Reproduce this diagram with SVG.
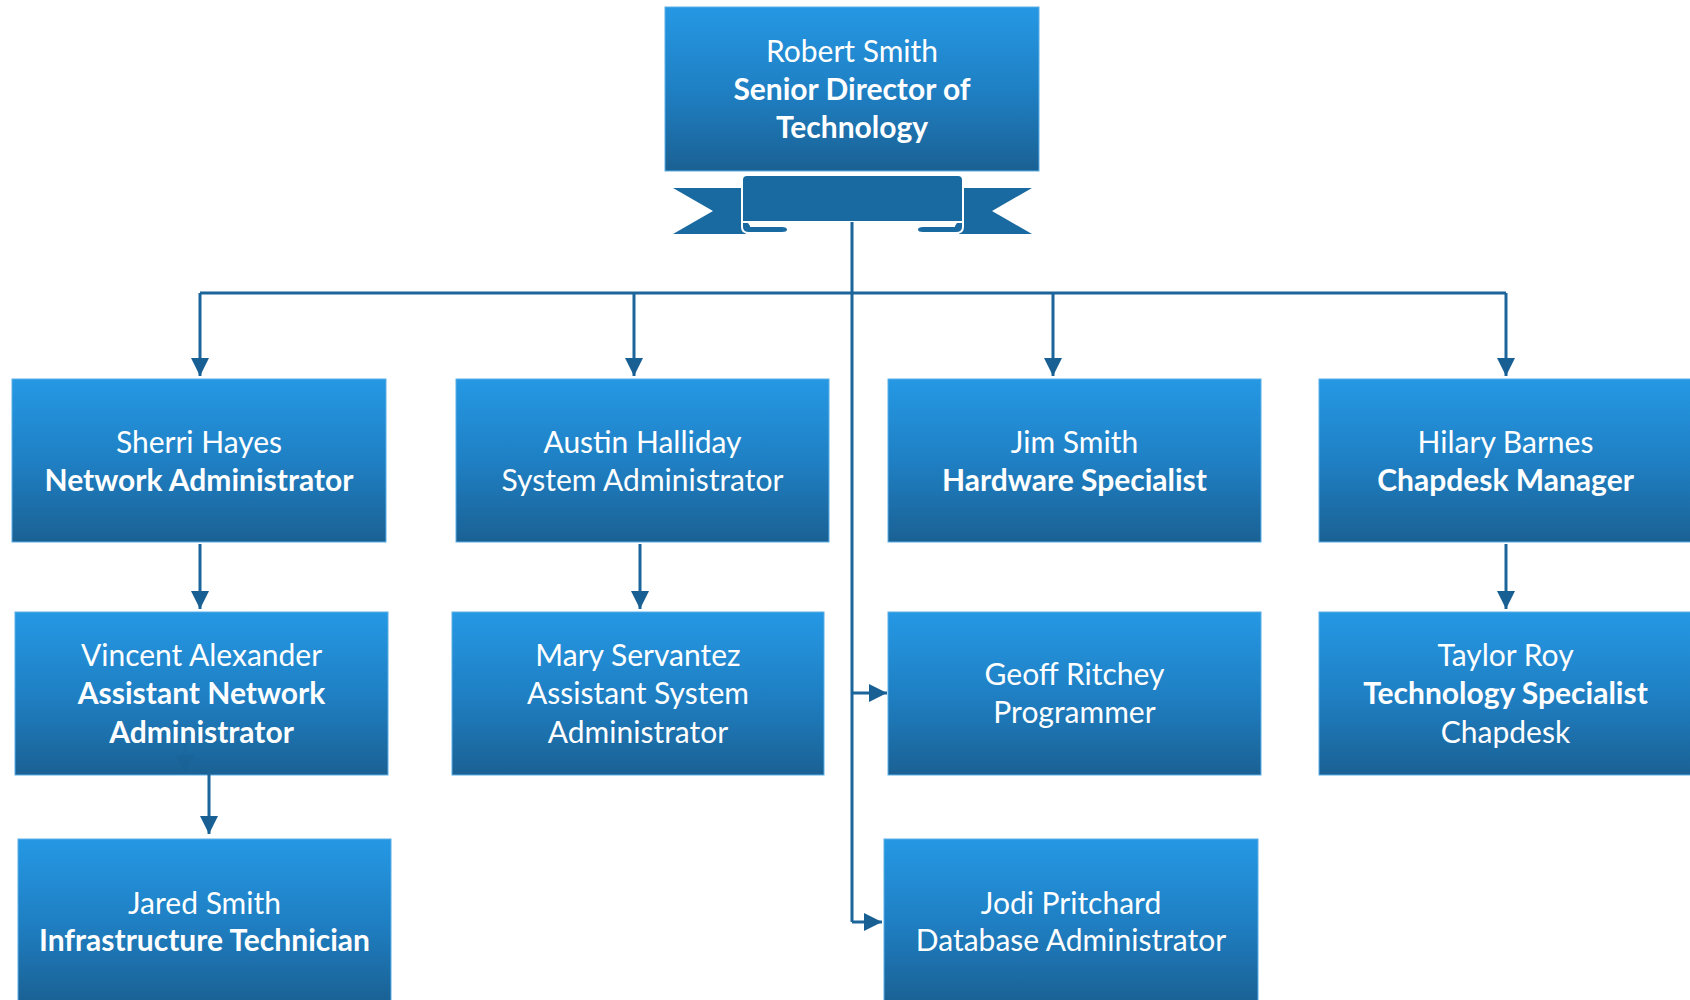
<svg xmlns="http://www.w3.org/2000/svg" width="1690" height="1000" viewBox="0 0 1690 1000">
<defs>
<linearGradient id="bg" x1="0" y1="0" x2="0" y2="1">
<stop offset="0" stop-color="#2598e4"/>
<stop offset="0.5" stop-color="#1f80c4"/>
<stop offset="1" stop-color="#1a6194"/>
</linearGradient>
<marker id="ah" viewBox="0 0 18 18" refX="18" refY="9" markerWidth="18" markerHeight="18" markerUnits="userSpaceOnUse" orient="auto">
<path d="M0,0 L18,9 L0,18 z" fill="#185f93"/>
</marker>
<style>
.box{fill:url(#bg);stroke:#5aaee6;stroke-width:1}
.t{font-family:Lato,"Liberation Sans",sans-serif;font-size:30px;fill:#ffffff;text-anchor:middle}
.b{font-weight:bold}
.c{fill:none;stroke:#1b659b;stroke-width:3}
.ca{fill:none;stroke:#1b659b;stroke-width:3;marker-end:url(#ah)}
.rib{fill:#1a6aa2}
.ribo{fill:#1a6aa2;stroke:#ffffff;stroke-width:2}
</style>
</defs>
<rect width="1690" height="1000" fill="#ffffff"/>

<g id="ribbon">
<polygon class="rib" points="673,188 746,188 746,234 673,234 713,211"/>
<polygon class="rib" points="1032,188 959,188 959,234 1032,234 992,211"/>
<path class="ribo" d="M742,214 V227 Q742,233 749,233 H782 Q788,233 788,229.5 Q788,226 782,226 H750"/>
<path class="ribo" d="M963,214 V227 Q963,233 956,233 H923 Q917,233 917,229.5 Q917,226 923,226 H955"/>
<path class="ribo" d="M742,222 V180 Q742,175 747,175 H958 Q963,175 963,180 V222 Z"/>
</g>

<g id="connectors">
<path class="c" d="M852,222 V922"/>
<path class="c" d="M200,293 H1506"/>
<path class="ca" d="M200,293 V376"/>
<path class="ca" d="M634,293 V376"/>
<path class="ca" d="M1053,293 V376"/>
<path class="ca" d="M1506,293 V376"/>
<path class="ca" d="M200,544 V609"/>
<path class="ca" d="M640,544 V609"/>
<path class="ca" d="M1506,544 V609"/>
<path class="ca" d="M852,693 H887"/>
<path class="ca" d="M852,922 H882"/>
</g>

<g id="n-robert">
<rect class="box" x="665" y="7" width="374" height="164"/>
<text class="t" x="852" y="61.5">Robert Smith</text>
<text class="t b" x="852" y="99.5">Senior Director of</text>
<text class="t b" x="852" y="137.5">Technology</text>
</g>

<g id="n-sherri">
<rect class="box" x="12" y="379" width="374" height="163"/>
<text class="t" x="199" y="452.5">Sherri Hayes</text>
<text class="t b" x="199" y="490.5">Network Administrator</text>
</g>

<g id="n-austin">
<rect class="box" x="456" y="379" width="373" height="163"/>
<text class="t" x="642.5" y="452.5">Austin Halliday</text>
<text class="t" x="642.5" y="490.5">System Administrator</text>
</g>

<g id="n-jim">
<rect class="box" x="888" y="379" width="373" height="163"/>
<text class="t" x="1074.5" y="452.5">Jim Smith</text>
<text class="t b" x="1074.5" y="490.5">Hardware Specialist</text>
</g>

<g id="n-hilary">
<rect class="box" x="1319" y="379" width="373" height="163"/>
<text class="t" x="1505.5" y="452.5">Hilary Barnes</text>
<text class="t b" x="1505.5" y="490.5">Chapdesk Manager</text>
</g>

<g id="n-vincent">
<rect class="box" x="15" y="612" width="373" height="163"/>
<text class="t" x="201.5" y="665.5">Vincent Alexander</text>
<text class="t b" x="201.5" y="703.5">Assistant Network</text>
<text class="t b" x="201.5" y="742.5">Administrator</text>
</g>

<g id="n-mary">
<rect class="box" x="452" y="612" width="372" height="163"/>
<text class="t" x="638" y="665.5">Mary Servantez</text>
<text class="t" x="638" y="703.5">Assistant System</text>
<text class="t" x="638" y="742.5">Administrator</text>
</g>

<g id="n-geoff">
<rect class="box" x="888" y="612" width="373" height="163"/>
<text class="t" x="1074.5" y="684.5">Geoff Ritchey</text>
<text class="t" x="1074.5" y="722.5">Programmer</text>
</g>

<g id="n-taylor">
<rect class="box" x="1319" y="612" width="373" height="163"/>
<text class="t" x="1505.5" y="665.5">Taylor Roy</text>
<text class="t b" x="1505.5" y="703.5">Technology Specialist</text>
<text class="t" x="1505.5" y="742.5">Chapdesk</text>
</g>

<g id="n-jared">
<rect class="box" x="18" y="839" width="373" height="163"/>
<text class="t" x="204.5" y="913.5">Jared Smith</text>
<text class="t b" x="204.5" y="950.5">Infrastructure Technician</text>
</g>

<g id="n-jodi">
<rect class="box" x="884" y="839" width="374" height="163"/>
<text class="t" x="1071" y="913.5">Jodi Pritchard</text>
<text class="t" x="1071" y="950.5">Database Administrator</text>
</g>

<g id="connectors-over">
<path class="ca" d="M185,745 V773" opacity="0.35"/>
<path class="ca" d="M209,768 V834"/>
</g>
</svg>
